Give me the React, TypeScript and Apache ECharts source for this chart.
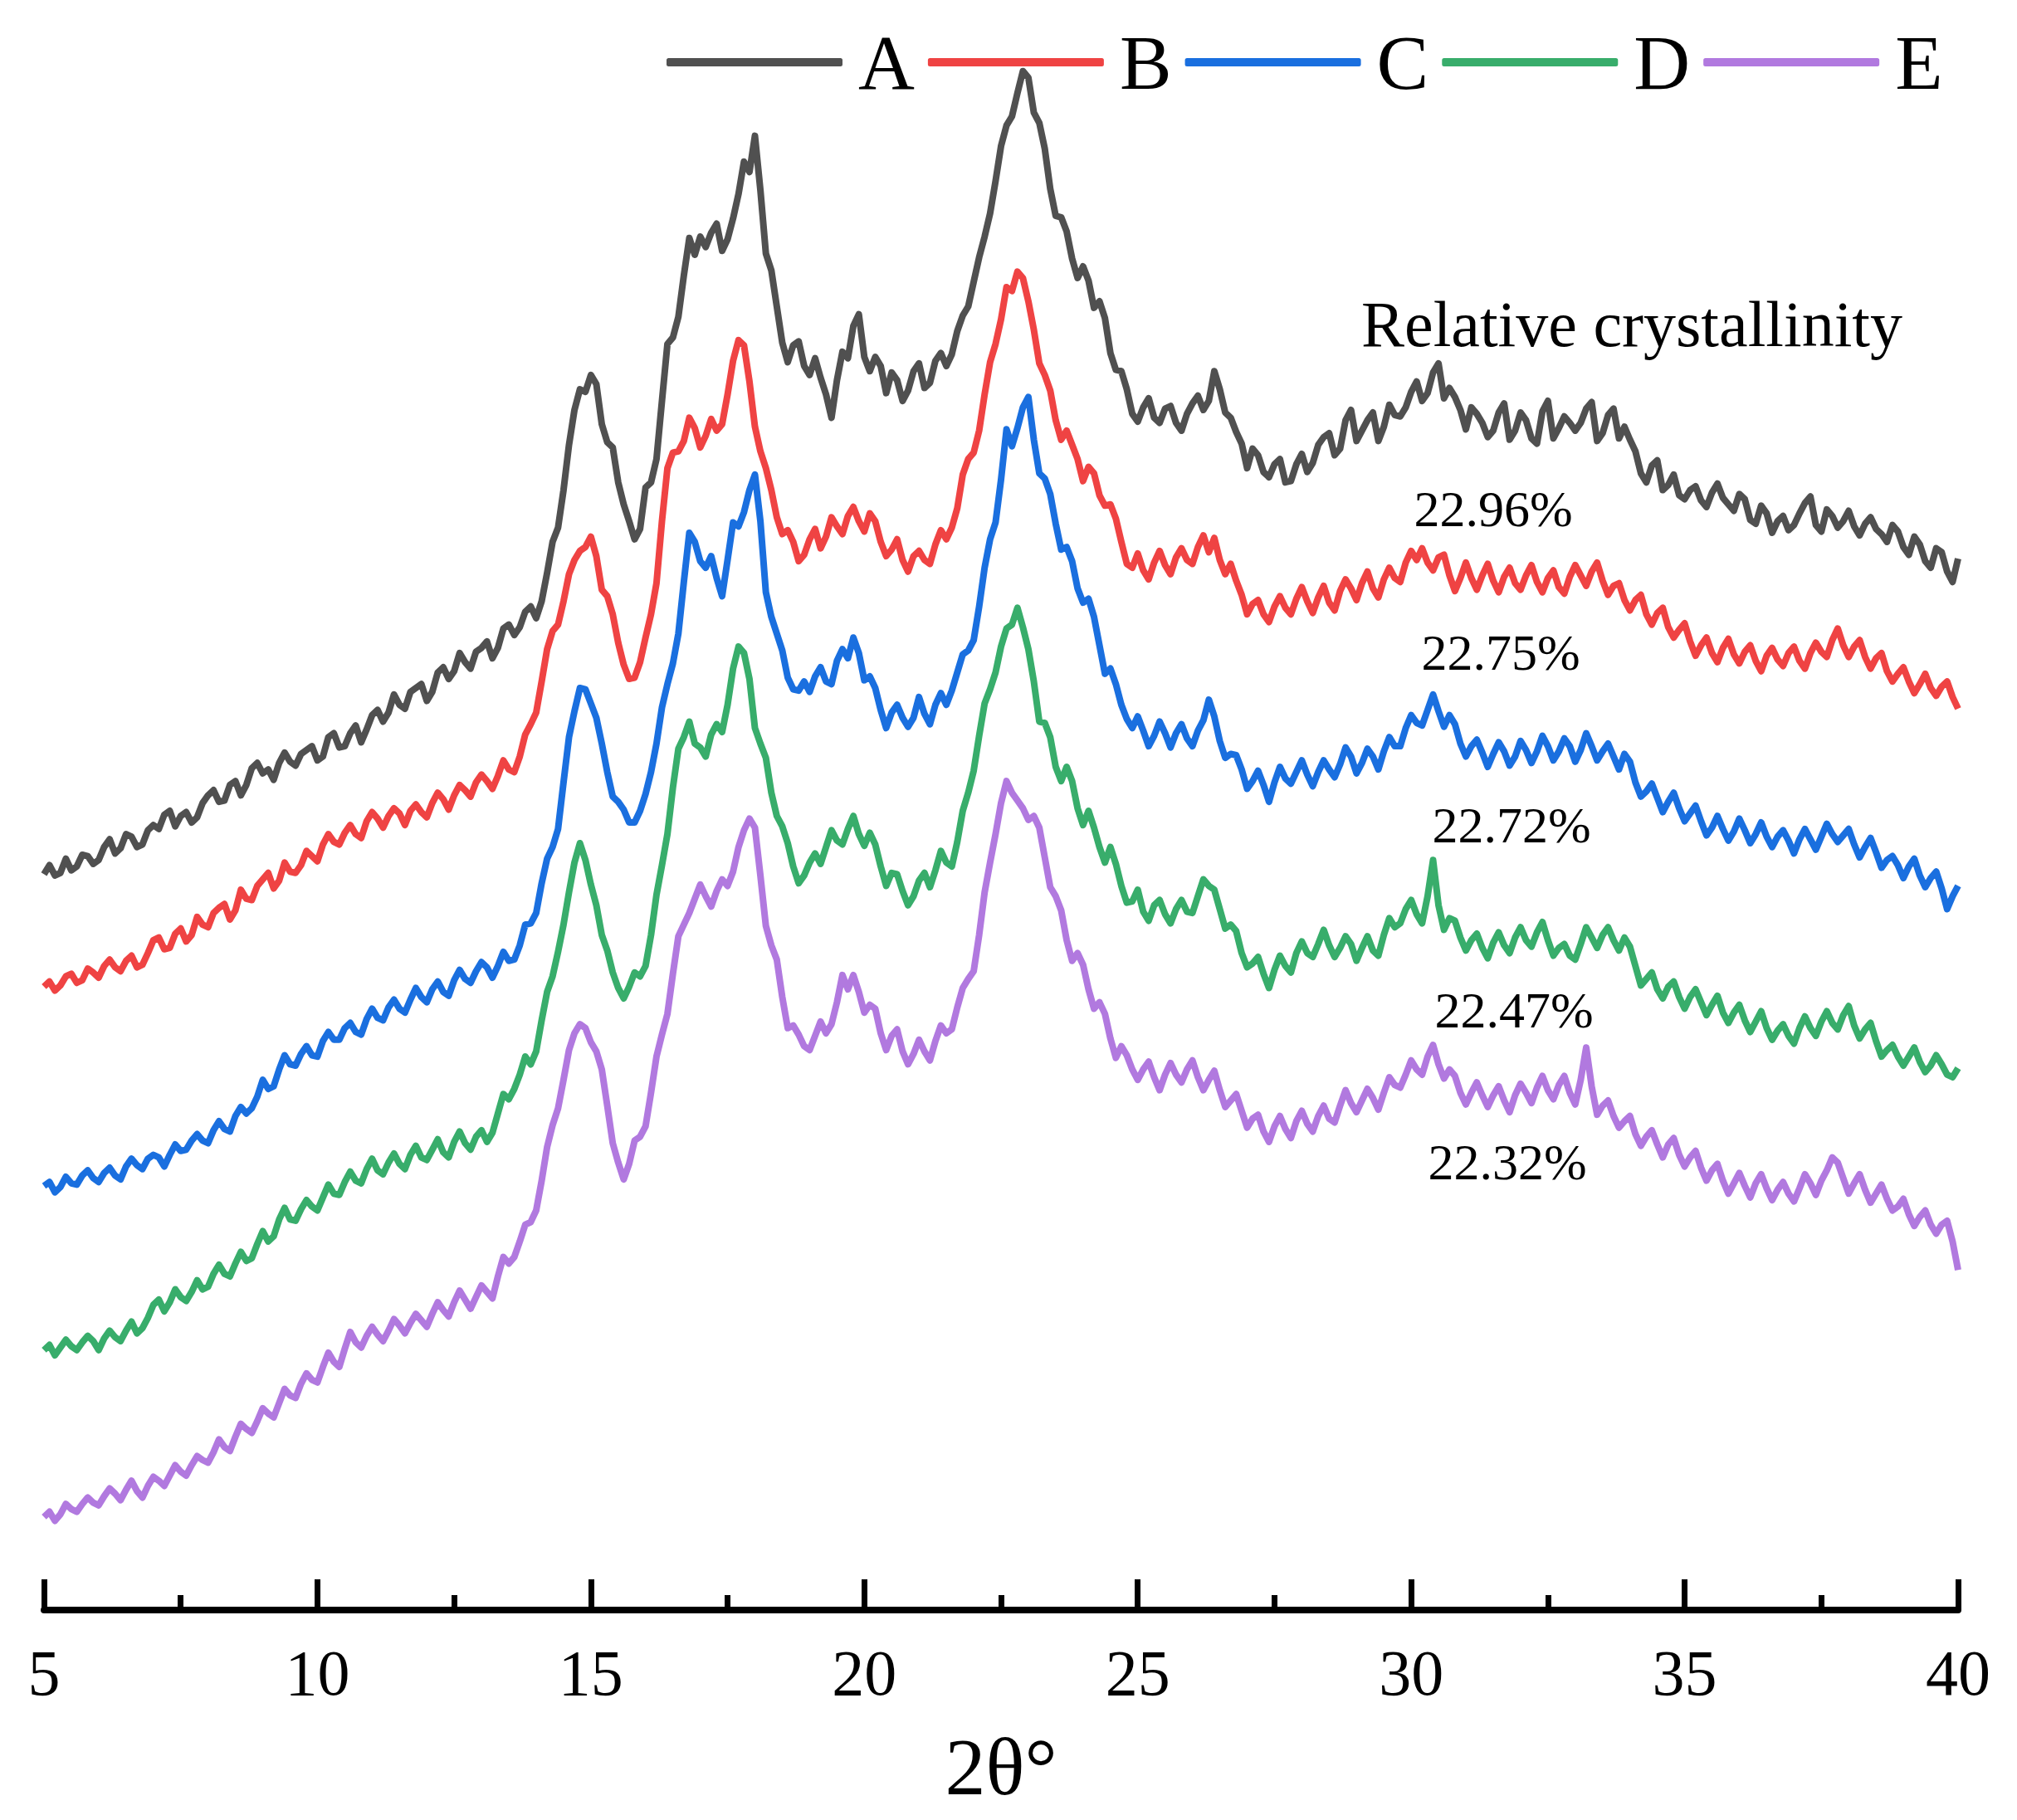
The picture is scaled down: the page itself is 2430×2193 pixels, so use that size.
import React, { useEffect, useRef } from "react";
import * as echarts from "echarts";

const SERIF = '"Liberation Serif", "Times New Roman", serif';

// sampling grid of the diffraction angle (degrees 2θ)
const ANGLE_START = 5;
const ANGLE_STEP = 0.1;

const seriesNames = ["A", "B", "C", "D", "E"];
const seriesColors = ["#505050", "#ef4343", "#1a6fdf", "#38ad6b", "#b179df"];

// intensities (arbitrary units, stacked offsets as in the figure), 5.0° to 40.0° every 0.1°
const intensityA = [
  569,576,568,570,581,572,575,584,583,577,580,590,596,585,589,600,598,590,592,603,
  607,604,615,618,606,614,617,609,613,624,630,634,625,626,638,641,630,638,651,655,
  647,650,642,655,663,656,653,662,665,668,657,660,675,678,667,668,678,684,671,681,
  692,696,687,694,708,700,697,710,713,716,703,710,725,729,720,726,740,733,728,741,
  744,749,736,744,759,762,754,760,772,776,767,780,802,826,837,866,901,928,944,942,
  955,948,917,903,899,872,855,842,828,836,868,872,890,935,979,984,1000,1032,1061,1048,
  1062,1054,1065,1072,1051,1060,1076,1095,1120,1112,1140,1098,1049,1036,1008,980,965,978,981,962,
  955,968,953,940,922,951,973,968,993,1002,969,958,969,962,941,957,951,935,943,958,
  964,945,949,966,972,962,971,989,1001,1008,1027,1046,1062,1080,1105,1132,1148,1155,1173,1190,
  1185,1158,1150,1130,1099,1078,1077,1066,1045,1030,1039,1028,1007,1012,999,972,959,958,944,925,
  919,930,937,922,918,929,931,918,912,925,933,939,928,935,958,944,926,922,911,902,
  883,898,893,880,876,886,890,872,873,886,894,880,887,901,907,910,893,898,920,928,
  904,912,920,926,904,915,932,924,923,930,942,950,935,941,957,964,937,945,938,928,
  913,930,925,918,907,912,926,933,905,912,926,920,906,902,927,935,906,914,923,918,
  912,918,929,934,904,910,924,929,906,915,905,896,879,872,885,889,866,870,878,862,
  859,866,869,858,853,864,871,860,855,850,863,859,843,840,854,848,833,842,846,835,
  839,848,856,861,839,834,851,846,837,842,850,838,831,840,845,836,832,826,839,834,
  822,816,830,824,811,806,821,818,803,795,813,
];

const intensityB = [
  482,486,479,483,490,492,485,487,496,493,489,498,503,497,494,502,506,497,499,508,
  518,520,511,512,523,527,517,522,536,530,528,539,543,546,534,541,557,550,549,560,
  565,570,558,564,578,571,570,576,587,583,579,592,600,594,592,601,607,600,597,610,
  617,612,605,614,620,616,607,618,623,617,613,624,632,627,619,630,638,634,629,640,
  646,641,635,645,657,650,648,660,677,685,694,718,743,757,762,780,801,812,819,822,
  830,815,789,784,770,748,731,720,721,733,752,770,794,842,883,895,896,904,922,914,
  899,908,921,912,917,940,966,982,978,950,915,896,883,866,845,832,835,826,811,816,
  828,836,821,830,845,838,832,846,853,842,834,848,842,826,815,820,828,812,803,815,
  819,812,809,824,835,828,837,852,878,890,895,912,940,965,979,998,1023,1020,1035,1030,
  1012,990,964,955,943,920,905,912,901,890,873,884,879,862,854,855,844,826,809,806,
  817,804,797,810,819,808,801,814,821,812,809,822,831,818,829,812,801,809,796,785,
  770,778,781,770,764,776,784,775,770,782,791,780,771,783,792,779,773,788,797,790,
  781,794,803,790,783,797,806,798,795,810,819,812,821,810,804,814,816,800,788,798,
  810,798,789,800,809,796,787,799,806,794,789,800,808,795,787,798,804,791,786,799,
  808,800,792,803,810,796,785,792,794,781,773,781,785,770,762,771,775,760,752,758,
  763,749,738,746,752,740,733,744,751,739,732,741,746,734,726,738,744,735,730,740,
  745,734,728,740,748,741,737,750,759,746,737,745,750,737,728,736,740,726,718,724,
  729,718,709,716,724,713,707,714,718,706,697,
];

const intensityC = [
  328,331,323,327,335,330,329,336,340,334,331,338,342,336,333,343,349,344,341,349,
  352,350,343,352,360,355,356,363,368,363,361,371,378,372,370,382,389,384,388,397,
  410,403,405,418,429,422,421,430,436,429,428,440,447,441,441,450,454,447,445,457,
  465,458,456,466,472,465,462,472,481,474,470,480,486,478,475,487,495,488,485,494,
  501,497,489,498,509,502,503,514,530,531,539,562,581,590,604,640,675,695,713,712,
  701,690,670,648,629,625,619,609,609,618,631,648,670,698,716,732,755,795,833,826,
  811,806,815,798,784,812,841,838,849,866,878,842,787,768,755,742,721,712,711,718,
  710,722,729,718,716,734,743,736,752,740,719,722,713,696,682,694,700,690,683,690,
  706,693,685,700,709,700,711,725,739,742,750,776,806,828,841,874,913,900,914,930,
  938,905,879,875,863,840,820,822,811,790,779,782,768,746,724,728,716,700,689,682,
  691,680,668,676,687,678,667,678,685,674,668,680,688,704,691,672,659,662,661,650,
  635,641,649,638,625,640,652,643,639,648,657,646,637,648,657,650,644,654,667,660,
  647,655,666,660,650,664,675,668,668,682,692,686,684,696,708,695,683,692,685,670,
  660,668,673,663,652,662,671,664,653,660,672,665,655,664,676,668,657,664,674,668,
  656,665,678,668,657,664,670,660,650,662,656,640,629,633,639,628,617,625,632,620,
  610,616,622,610,599,605,614,604,595,602,612,603,593,600,609,598,590,598,603,595,
  585,596,604,596,588,598,608,600,594,599,604,592,582,590,597,586,574,580,583,576,
  566,575,581,568,559,566,571,558,542,552,560,
];

const intensityD = [
  201,205,197,203,209,204,201,207,212,208,201,210,216,211,208,216,223,214,218,226,
  236,240,231,238,248,242,239,246,255,248,250,260,267,260,258,268,277,270,272,283,
  293,285,289,302,311,302,301,310,317,312,309,319,329,322,321,331,339,332,330,341,
  349,340,337,346,353,345,341,352,359,350,348,356,364,354,350,362,370,361,356,366,
  371,362,369,384,399,395,403,414,428,422,432,456,478,490,509,530,555,578,593,580,
  561,545,522,510,493,481,473,482,493,490,498,522,553,576,600,636,666,675,687,670,
  667,660,677,685,679,700,728,745,740,720,682,670,659,632,614,606,593,575,562,568,
  578,585,577,590,603,595,592,604,614,600,591,601,592,575,560,570,569,556,545,552,
  564,570,559,572,587,578,575,594,618,632,649,676,701,712,725,745,759,762,775,760,
  743,718,687,686,675,652,641,652,641,620,607,618,605,590,578,590,577,560,547,548,
  557,540,533,545,549,538,531,542,549,540,539,552,565,560,557,542,527,530,525,508,
  497,500,505,492,481,495,506,498,493,508,517,508,505,515,526,514,505,512,521,515,
  502,512,521,510,506,522,535,528,531,542,549,538,531,552,580,545,526,535,533,520,
  510,518,523,512,504,516,524,514,508,520,528,518,513,524,532,518,506,512,515,506,
  503,515,528,520,512,522,528,518,510,520,513,498,483,488,493,480,473,482,486,474,
  465,474,480,470,460,468,475,462,454,462,468,456,447,455,463,450,441,448,453,444,
  438,450,459,450,444,455,463,454,449,460,467,452,442,449,454,440,428,433,437,428,
  421,428,435,424,416,421,429,422,414,412,419,
];

const intensityE = [
  72,76,69,74,82,78,76,82,87,83,81,88,94,90,85,93,100,92,87,96,
  103,100,96,104,112,107,104,112,119,116,114,122,132,126,123,134,144,140,137,146,
  156,152,149,160,171,166,164,175,183,178,176,188,199,192,188,202,215,207,203,212,
  219,213,208,216,225,220,214,222,229,224,219,229,238,232,227,238,247,240,233,242,
  251,246,241,258,273,268,273,285,298,300,309,332,358,375,388,410,433,446,453,450,
  439,432,418,390,361,346,333,345,363,366,374,400,428,445,461,492,521,530,539,550,
  561,552,544,556,565,560,571,590,603,612,605,568,529,514,503,474,450,452,445,436,
  433,444,455,446,453,470,491,480,491,478,462,468,465,446,433,444,449,432,422,430,
  441,432,425,440,452,446,449,466,481,488,494,522,555,578,600,624,641,632,626,620,
  611,614,605,582,559,552,541,518,502,508,499,480,465,470,461,442,427,436,429,418,
  410,418,424,412,402,414,423,414,408,418,425,412,402,410,417,402,389,394,399,386,
  373,380,383,370,362,374,382,372,365,378,386,376,370,382,390,380,377,390,402,392,
  385,394,403,396,387,400,412,406,404,414,425,418,414,428,437,422,411,418,413,400,
  391,400,408,398,389,398,405,394,385,398,407,400,392,404,413,402,395,406,413,400,
  391,410,435,405,383,390,394,382,373,378,382,368,359,366,371,360,350,360,365,352,
  343,350,355,342,332,340,345,332,322,330,338,328,319,330,337,326,317,325,331,322,
  316,326,337,330,321,332,340,350,346,334,322,330,337,325,315,322,329,318,309,312,
  318,306,297,304,309,298,291,298,301,285,263,
];

const allIntensities = [intensityA, intensityB, intensityC, intensityD, intensityE];

const xTickMin = 5;
const xTickMax = 40;
const xTickInterval = 5;

const annotationTitle = "Relative crystallinity";
const crystallinityLabels = ["22.96%", "22.75%", "22.72%", "22.47%", "22.32%"];

export default function App() {
  const ref = useRef<HTMLDivElement>(null);

  useEffect(() => {
    document.body.style.margin = "0";
    if (!ref.current) return;
    const chart = echarts.init(ref.current, null, { renderer: "svg" });

    const toPairs = (vals: number[]) =>
      vals.map((v, i) => [Math.round((ANGLE_START + i * ANGLE_STEP) * 10) / 10, v]);

    const labelPos = [
      [1799, 613],
      [1808, 786],
      [1821, 994],
      [1824, 1217],
      [1816, 1400],
    ];

    chart.setOption({
      animation: false,
      backgroundColor: "#ffffff",
      grid: { left: 53, right: 71, top: 0, bottom: 253, containLabel: false },
      legend: {
        data: seriesNames,
        left: 798,
        top: 23,
        itemWidth: 212,
        itemHeight: 10,
        itemGap: 16,
        icon: "roundRect",
        textStyle: {
          fontFamily: SERIF,
          fontSize: 94,
          color: "#000",
          padding: [0, 0, 0, 14],
        },
      },
      xAxis: {
        type: "value",
        min: xTickMin,
        max: xTickMax,
        interval: xTickInterval,
        axisLine: { show: true, lineStyle: { color: "#000", width: 8 } },
        axisTick: { show: true, inside: true, length: 37, lineStyle: { color: "#000", width: 7 } },
        minorTick: { show: true, splitNumber: 2, length: 18, lineStyle: { color: "#000", width: 7 } },
        splitLine: { show: false },
        axisLabel: { fontFamily: SERIF, fontSize: 78, color: "#000", margin: 36 },
        name: "2θ°",
        nameLocation: "middle",
        nameGap: 140,
        nameTextStyle: { fontFamily: SERIF, fontSize: 98, color: "#000" },
      },
      yAxis: { type: "value", min: 0, max: 1245, show: false },
      series: seriesNames.map((name, i) => ({
        name,
        type: "line",
        data: toPairs(allIntensities[i]),
        symbol: "none",
        showSymbol: false,
        color: seriesColors[i],
        lineStyle: { color: seriesColors[i], width: 8, join: "round" },
        itemStyle: { color: seriesColors[i] },
        z: 2 + i,
      })),
      graphic: [
        {
          type: "text",
          x: 1640,
          y: 390,
          style: {
            text: annotationTitle,
            fontFamily: SERIF,
            fontSize: 78,
            fill: "#000",
            align: "left",
            verticalAlign: "middle",
          },
        },
        ...crystallinityLabels.map((t, i) => ({
          type: "text",
          x: labelPos[i][0],
          y: labelPos[i][1],
          style: {
            text: t,
            fontFamily: SERIF,
            fontSize: 62,
            fill: "#000",
            align: "center",
            verticalAlign: "middle",
          },
        })),
      ],
    });

    return () => chart.dispose();
  }, []);

  return <div ref={ref} style={{ width: 2430, height: 2193 }} />;
}
